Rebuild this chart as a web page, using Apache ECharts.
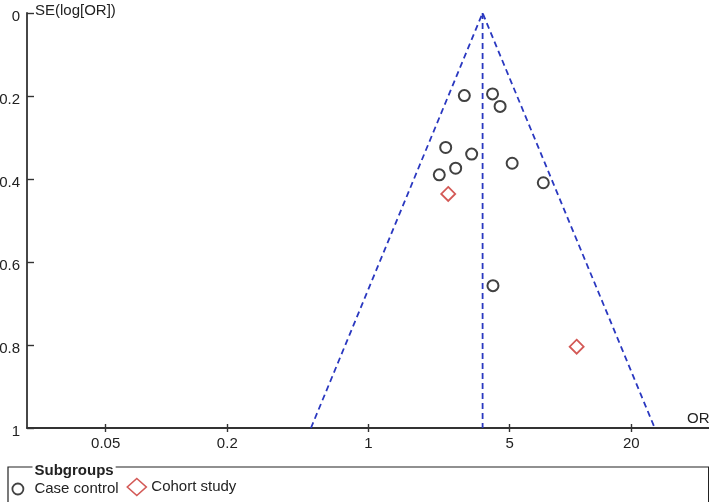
<!DOCTYPE html>
<html>
<head>
<meta charset="utf-8">
<script src="https://cdn.jsdelivr.net/npm/echarts@6/dist/echarts.min.js"></script>
<style>
html,body{margin:0;padding:0;background:#fff;}
#chart{width:709px;height:502px;}
</style>
</head>
<body>
<div id="chart"></div>
<script>
// ---- data ----
const xTickValues = [0.05, 0.2, 1, 5, 20];
const seriesNames = ['Case control', 'Cohort study'];
const caseControlOR = [2.98, 4.11, 4.48, 2.41, 3.24, 5.14, 2.70, 2.24, 7.33, 4.13];
const caseControlSE = [0.199, 0.195, 0.225, 0.324, 0.340, 0.362, 0.374, 0.390, 0.409, 0.657];
const cohortOR = [2.48, 10.72];
const cohortSE = [0.436, 0.804];
const funnelOR = [0.519, 3.67, 26.1];
const funnelSE = [1, 0, 1];
const pooledOR = [3.67, 3.67];
const pooledSE = [0, 1];

const zip = (a, b) => a.map((v, i) => [v, b[i]]);
const FONT = 'Liberation Sans, Arial, sans-serif';
const AXIS_COLOR = '#333333';
const BLUE = '#2a38c0';
const RED = '#c8302c';

const chart = echarts.init(document.getElementById('chart'), null, {renderer: 'canvas'});
const xBase = {
  type: 'log', logBase: 10, min: 0.0204, max: 49, gridIndex: 0, position: 'bottom',
  splitLine: {show: false}, minorTick: {show: false}
};
chart.setOption({
  animation: false,
  textStyle: {fontFamily: FONT},
  title: {
    text: 'Subgroups', left: 32.5, top: 461.5, padding: [1, 2, 1, 2],
    backgroundColor: '#fff',
    textStyle: {fontSize: 15, fontWeight: 'bold', color: '#222', fontFamily: FONT, lineHeight: 16}
  },
  legend: [{
    data: [{name: 'Case control', textStyle: {padding: [2, 0, 0, 6]}}],
    left: 8, top: 467, orient: 'horizontal',
    padding: [13, 590, 6, 3.5],
    borderColor: '#222', borderWidth: 1.2,
    itemWidth: 11, itemHeight: 11,
    itemStyle: {borderWidth: 1.8},
    textStyle: {fontSize: 15, color: '#222', fontFamily: FONT, lineHeight: 16}
  }, {
    data: ['Cohort study'],
    left: 126.5, top: 475, padding: 0,
    itemWidth: 19, itemHeight: 17, symbolKeepAspect: false,
    itemStyle: {borderWidth: 1.6},
    textStyle: {fontSize: 15, color: '#222', fontFamily: FONT, lineHeight: 17, padding: [7, 0, 0, 0]}
  }],
  grid: {left: 27, top: 13, width: 683, height: 415, containLabel: false, outerBoundsMode: 'none'},
  xAxis: [Object.assign({}, xBase, {
    name: 'OR', nameLocation: 'end', nameGap: -23,
    nameTextStyle: {fontSize: 15, color: '#222', fontFamily: FONT, verticalAlign: 'bottom', lineHeight: 19},
    axisLine: {show: true, onZero: false, lineStyle: {color: AXIS_COLOR, width: 1.8}},
    axisTick: {show: true, inside: false, length: 4, customValues: xTickValues, lineStyle: {color: AXIS_COLOR, width: 1.4}},
    axisLabel: {show: true, customValues: xTickValues, margin: 8, fontSize: 15, color: '#222', fontFamily: FONT,
      formatter: v => String(+(+v).toPrecision(6))}
  }), Object.assign({}, xBase, {
    axisLine: {show: false, onZero: false},
    axisTick: {show: true, inside: true, length: 4, customValues: xTickValues, lineStyle: {color: AXIS_COLOR, width: 1.4}},
    axisLabel: {show: false}
  })],
  yAxis: {
    type: 'value', min: 0, max: 1, interval: 0.2, inverse: true,
    name: 'SE(log[OR])', nameLocation: 'start', nameGap: -5,
    nameTextStyle: {fontSize: 15, color: '#222', fontFamily: FONT, align: 'left', padding: [0, 0, 0, 8]},
    splitLine: {show: false},
    axisLine: {show: true, onZero: false, lineStyle: {color: AXIS_COLOR, width: 1.8}},
    axisTick: {show: true, inside: true, length: 7, lineStyle: {color: AXIS_COLOR, width: 1.4}},
    axisLabel: {margin: 7, fontSize: 15, color: '#222', fontFamily: FONT, verticalAlign: 'top', lineHeight: 7}
  },
  series: [{
    type: 'line', name: 'funnel', data: zip(funnelOR, funnelSE), symbol: 'none', silent: true,
    lineStyle: {color: BLUE, width: 1.8, type: [6, 4]}, z: 1
  }, {
    type: 'line', name: 'pooled', data: zip(pooledOR, pooledSE), symbol: 'none', silent: true,
    lineStyle: {color: BLUE, width: 1.8, type: [6, 4]}, z: 1
  }, {
    type: 'scatter', name: seriesNames[0], data: zip(caseControlOR, caseControlSE),
    symbol: 'circle', symbolSize: 11,
    itemStyle: {color: 'rgba(0,0,0,0)', borderColor: '#111', borderWidth: 2}, z: 3
  }, {
    type: 'scatter', name: seriesNames[1], data: zip(cohortOR, cohortSE),
    symbol: 'diamond', symbolSize: 14,
    itemStyle: {color: 'rgba(0,0,0,0)', borderColor: RED, borderWidth: 1.8}, z: 3
  }]
});
</script>
</body>
</html>
